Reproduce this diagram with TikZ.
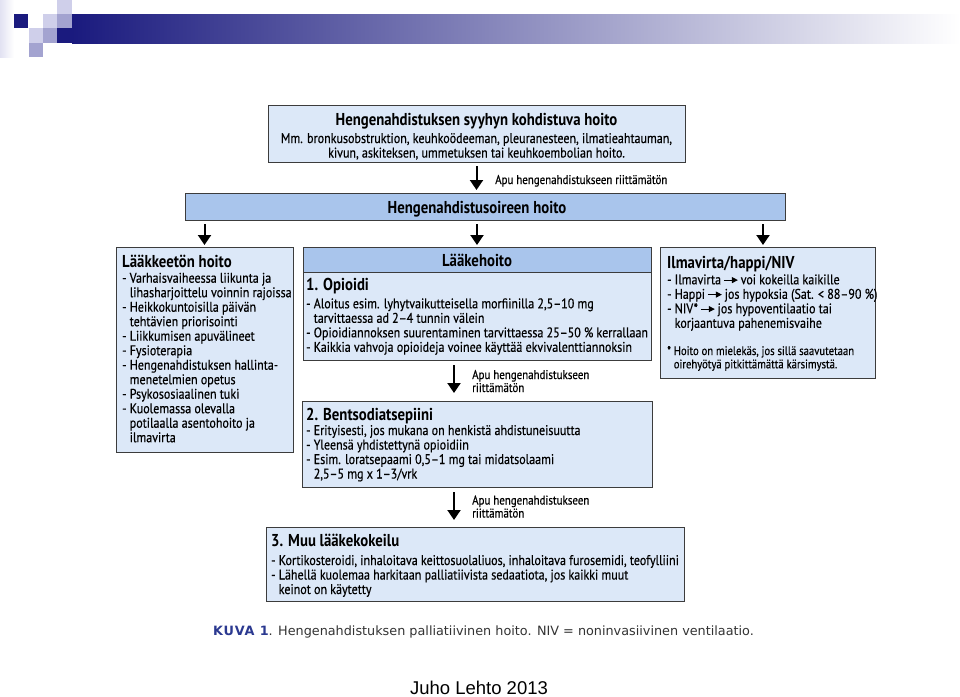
\documentclass[tikz,border=0pt]{standalone}
\usepackage{fontspec}
\newfontfamily\diagfont[FakeStretch=0.86, UprightFeatures={FakeBold=0.4}]{PT Sans}
\newfontfamily\capfont{DejaVu Sans}
\newfontfamily\authfont{Liberation Sans}
\usetikzlibrary{arrows.meta}

\definecolor{boxfill}{HTML}{DCE8F8}
\definecolor{barfill}{HTML}{A9C5EC}
\definecolor{boxline}{HTML}{3C3C3C}
\definecolor{navy}{HTML}{1A1A7E}
\definecolor{sqlight}{HTML}{CFCFEA}
\definecolor{sqmid}{HTML}{A3A3D0}
\definecolor{capblue}{HTML}{2B3990}
\definecolor{captext}{HTML}{333333}

\tikzset{
  box/.style={draw=boxline, fill=boxfill, line width=1pt, anchor=north west, inner sep=0pt, outer sep=0pt},
  barbox/.style={box, fill=barfill},
  arr/.style={line width=2pt, -{Triangle[width=13pt,length=10pt]}},
  body/.style={font=\diagfont\fontsize{14}{14.5}\selectfont, inner sep=0pt, anchor=base west},
  head/.style={font=\diagfont\bfseries\fontsize{17.2}{19}\selectfont, inner sep=0pt, anchor=base west},
  lbl/.style={font=\diagfont\fontsize{12.7}{13}\selectfont, inner sep=0pt, anchor=base west},
  note/.style={font=\diagfont\fontsize{12.4}{13.3}\selectfont, inner sep=0pt, anchor=base west},
}
\newcommand\indt{\hphantom{-\ }}
\newcommand\inarrow{\,\tikz[baseline=-0.6ex]\draw[line width=1pt,-{Triangle[width=6pt,length=6pt]}] (0pt,0pt) -- (14pt,0pt);\,}

\begin{document}
\begin{tikzpicture}[x=1pt,y=-1pt]
  \useasboundingbox (0,0) rectangle (960,696);

  % slide decoration
  \shade[left color=sqlight!60, right color=white] (0,0) rectangle (14,57);
  \shade[left color=navy, right color=white] (72,14) rectangle (960,43);
  \fill[navy] (14,14) rectangle (28,28);
  \fill[sqlight] (43,14) rectangle (57,28);
  \fill[sqlight] (57,0) rectangle (72,14);
  \fill[sqmid] (57,14) rectangle (72,28);
  \fill[navy] (57,28) rectangle (72,43);
  \fill[sqlight] (29,28) rectangle (43,43);
  \fill[sqmid] (43,28) rectangle (57,43);
  \fill[sqmid] (29,43) rectangle (43,57);

  % boxes
  \node[box, minimum width=417pt, minimum height=57pt] (top) at (268,105) {};
  \node[barbox, minimum width=600pt, minimum height=27pt] (bar) at (185,193) {};
  \node[box, minimum width=177pt, minimum height=205pt] (nondrug) at (116,247) {};
  \node[box, minimum width=348pt, minimum height=113pt] (drug) at (303,247) {};
  \node[barbox, minimum width=348pt, minimum height=25pt] (drughead) at (303,247) {};
  \node[box, minimum width=215pt, minimum height=131pt] (air) at (660,247) {};
  \node[box, minimum width=350pt, minimum height=86pt] (benzo) at (302,401) {};
  \node[box, minimum width=418pt, minimum height=74pt] (other) at (266,527) {};

  % texts
  \node[head, anchor=base] (toptitle) at (476.5,125) {Hengenahdistuksen syyhyn kohdistuva hoito};
  \node[body, anchor=base] (toptext) at (476.5,143) {\begin{tabular}[t]{@{}c@{}}
    Mm. bronkusobstruktion, keuhkoödeeman, pleuranesteen, ilmatieahtauman,\\
    kivun, askiteksen, ummetuksen tai keuhkoembolian hoito.\end{tabular}};
  \node[head, anchor=base] (bartitle) at (477,213) {Hengenahdistusoireen hoito};

  \node[head] (nondrugtitle) at (122,267.5) {Lääkkeetön hoito};
  \node[body] (nondrugtext) at (122,282.7) {\begin{tabular}[t]{@{}l@{}}
    - Varhaisvaiheessa liikunta ja\\
    \indt lihasharjoittelu voinnin rajoissa\\
    - Heikkokuntoisilla päivän\\
    \indt tehtävien priorisointi\\
    - Liikkumisen apuvälineet\\
    - Fysioterapia\\
    - Hengenahdistuksen hallinta-\\
    \indt menetelmien opetus\\
    - Psykososiaalinen tuki\\
    - Kuolemassa olevalla\\
    \indt potilaalla asentohoito ja\\
    \indt ilmavirta\end{tabular}};

  \node[head, anchor=base] (drugtitle) at (477,266.7) {Lääkehoito};
  \node[head] (opititle) at (306,290) {1. Opioidi};
  \node[body] (opitext) at (306,308.3) {\begin{tabular}[t]{@{}l@{}}
    - Aloitus esim. lyhytvaikutteisella morfiinilla 2,5–10 mg\\
    \indt tarvittaessa ad 2–4 tunnin välein\\
    - Opioidiannoksen suurentaminen tarvittaessa 25–50 \% kerrallaan\\
    - Kaikkia vahvoja opioideja voinee käyttää ekvivalenttiannoksin\end{tabular}};

  \node[head] (airtitle) at (667,268.3) {Ilmavirta/happi/NIV};
  \node[body] (airtext) at (667,284.3) {\begin{tabular}[t]{@{}l@{}}
    - Ilmavirta\inarrow voi kokeilla kaikille\\
    - Happi\inarrow jos hypoksia (Sat. < 88–90 \%)\\
    - NIV*\inarrow jos hypoventilaatio tai\\
    \indt korjaantuva pahenemisvaihe\end{tabular}};
  \node[note] (airnote) at (667,355) {\begin{tabular}[t]{@{}l@{}}
    * Hoito on mielekäs, jos sillä saavutetaan\\
    \hphantom{*\ }oirehyötyä pitkittämättä kärsimystä.\end{tabular}};

  \node[head] (benzotitle) at (306,420) {2. Bentsodiatsepiini};
  \node[body] (benzotext) at (306,435) {\begin{tabular}[t]{@{}l@{}}
    - Erityisesti, jos mukana on henkistä ahdistuneisuutta\\
    - Yleensä yhdistettynä opioidiin\\
    - Esim. loratsepaami 0,5–1 mg tai midatsolaami\\
    \indt 2,5–5 mg x 1–3/vrk\end{tabular}};

  \node[head] (othertitle) at (271,546) {3. Muu lääkekokeilu};
  \node[body] (othertext) at (271,565) {\begin{tabular}[t]{@{}l@{}}
    - Kortikosteroidi, inhaloitava keittosuolaliuos, inhaloitava furosemidi, teofylliini\\
    - Lähellä kuolemaa harkitaan palliatiivista sedaatiota, jos kaikki muut\\
    \indt keinot on käytetty\end{tabular}};

  % connectors
  \draw[arr, shorten <=4pt, shorten >=3pt] (top.south) -- (top.south |- bar.north);
  \draw[arr, shorten <=4pt, shorten >=2pt] (bar.south -| nondrug.north) -- (nondrug.north);
  \draw[arr, shorten <=4pt, shorten >=2pt] (bar.south -| drughead.north) -- (drughead.north);
  \draw[arr, shorten <=4pt, shorten >=2pt] ([xshift=-4.5pt]air.north |- bar.south) -- ([xshift=-4.5pt]air.north);
  \draw[arr, shorten <=5pt, shorten >=8pt] ([xshift=-23pt]drug.south) -- ([xshift=-23pt]drug.south |- benzo.north);
  \draw[arr, shorten <=5pt, shorten >=7pt] ([xshift=-23pt]benzo.south -| drug.south) -- ([xshift=-23pt]drug.south |- other.north);

  \node[lbl] (help1) at (495,184) {Apu hengenahdistukseen riittämätön};
  \node[lbl] (help2) at (472,379) {\begin{tabular}[t]{@{}l@{}}Apu hengenahdistukseen\\riittämätön\end{tabular}};
  \node[lbl] (help3) at (472,504.5) {\begin{tabular}[t]{@{}l@{}}Apu hengenahdistukseen\\riittämätön\end{tabular}};

  % caption
  \node[font=\capfont\fontsize{12.8}{14}\selectfont, text=captext, inner sep=0pt, anchor=base west] (caption) at (213,635)
    {{\bfseries\color{capblue}\addfontfeature{LetterSpace=6}KUVA 1}. Hengenahdistuksen palliatiivinen hoito. NIV = noninvasiivinen ventilaatio.};
  \node[font=\authfont\fontsize{18.5}{20}\selectfont, inner sep=0pt, anchor=base] (author) at (479,694) {Juho Lehto 2013};
\end{tikzpicture}
\end{document}
